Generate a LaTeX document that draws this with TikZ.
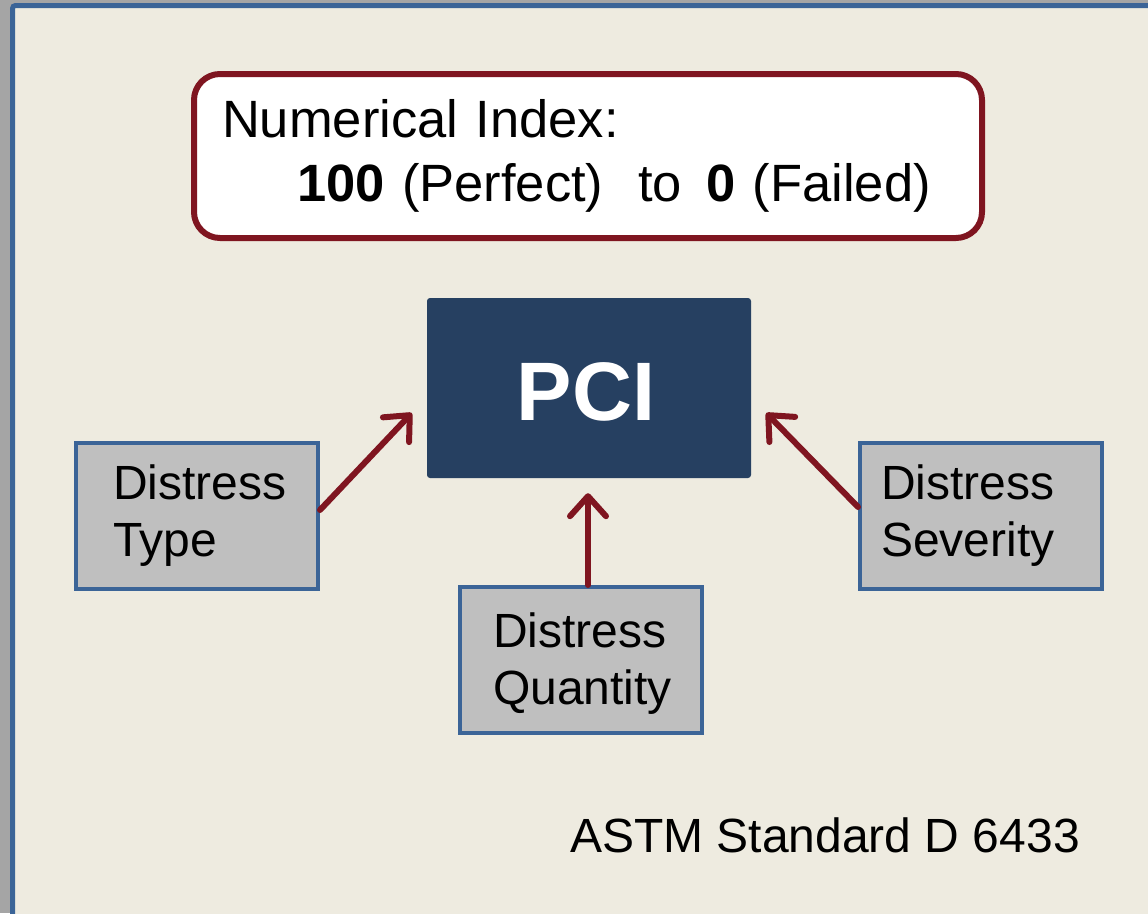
\documentclass[tikz,border=0pt]{standalone}
\usepackage{fontspec}
\setmainfont{Liberation Sans}
\usetikzlibrary{arrows.meta}

\definecolor{pagegray}{HTML}{A5A5A5}
\definecolor{framblue}{HTML}{3B6497}
\definecolor{slidebg}{HTML}{EEEBE0}
\definecolor{idxred}{HTML}{7F1520}
\definecolor{pcinavy}{HTML}{264061}
\definecolor{boxgray}{HTML}{BFBFBF}

\begin{document}
\begin{tikzpicture}[x=1pt, y=-1pt,
    distbox/.style={draw=framblue, line width=4pt, fill=boxgray, minimum width=242pt, minimum height=146pt,
      inner xsep=0pt, align=left, font=\fontsize{48}{57}\selectfont},
    arr/.style={draw=idxred, line width=6pt, line cap=round, -{Straight Barb[length=20pt, width=36pt, line cap=round, line join=round]}}]
    \useasboundingbox (0,0) rectangle (1148,913);
    \clip (0,0) rectangle (1148,913);
    \fill[pagegray] (0,0) rectangle (1148,913);
    \draw[framblue, line width=5pt, fill=slidebg, rounded corners=3pt] (12.5,5.5) rectangle (1170,940);

    \node[draw=idxred, line width=6pt, fill=white, rounded corners=26pt, minimum width=788pt, minimum height=164pt,
      inner xsep=28pt, text width=732pt, align=left, font=\fontsize{52.5}{64}\selectfont] (index) at (588,156)
      {Numerical Index:\\\hspace*{75pt}\textbf{100} (Perfect)\ \ to\hspace{24pt}\textbf{0} (Failed)};

    \node[fill=pcinavy, rounded corners=3pt, minimum width=324pt, minimum height=180pt, text=white,
      font=\fontsize{83}{90}\selectfont\bfseries] (pci) at (589,388) {\hspace*{-6pt}\raisebox{-4pt}[\height][\depth]{PCI}};

    \node[distbox, text width=168pt] (type) at (197,516) {Distress\\Type};
    \node[distbox, text width=176pt] (quantity) at (581,660)
      {\raisebox{-4pt}[\height][\depth]{Distress}\\\raisebox{-4pt}[\height][\depth]{Quantity}};
    \node[distbox, text width=200pt] (severity) at (981,516) {Distress\\Severity};

    \draw[arr] ([yshift=6pt]type.east) -- ([shift={(-15,25)}]pci.west);
    \draw[arr] ([xshift=7pt]quantity.north) -- ([shift={(-1,15)}]pci.south);
    \draw[arr] ([yshift=9pt]severity.west) -- ([shift={(15,25)}]pci.east);

    \node[anchor=base west, inner sep=0pt, font=\fontsize{48}{57}\selectfont] (astm) at (570,852) {ASTM Standard D 6433};
  \end{tikzpicture}
\end{document}
